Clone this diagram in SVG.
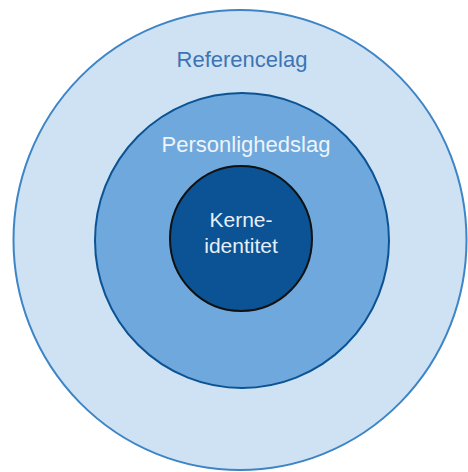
<svg xmlns="http://www.w3.org/2000/svg" width="468" height="472" viewBox="0 0 468 472">
<style>
text{font-family:"Liberation Sans",Arial,sans-serif;text-anchor:middle}
.lbl{font-size:22px}
</style>
<rect width="468" height="472" fill="#ffffff"/>
<g id="referencelag">
<ellipse cx="240" cy="240" rx="226.5" ry="230" fill="#cfe2f3" stroke="#3d85c6" stroke-width="2"/>
<text class="lbl" x="242" y="67" fill="#3d74b4">Referencelag</text>
</g>
<g id="personlighedslag">
<ellipse cx="242" cy="240.5" rx="147" ry="147.5" fill="#6fa8dc" stroke="#0b5394" stroke-width="2"/>
<text class="lbl" x="246" y="152" fill="#eef4fb">Personlighedslag</text>
</g>
<g id="kerneidentitet">
<ellipse cx="241" cy="238.5" rx="71" ry="72.5" fill="#0b5394" stroke="#111111" stroke-width="2"/>
<text x="241" y="227" font-size="21" fill="#e8eef6">Kerne-</text>
<text x="241" y="252.5" font-size="21" fill="#e8eef6">identitet</text>
</g>
<g id="connectors"/>
</svg>
